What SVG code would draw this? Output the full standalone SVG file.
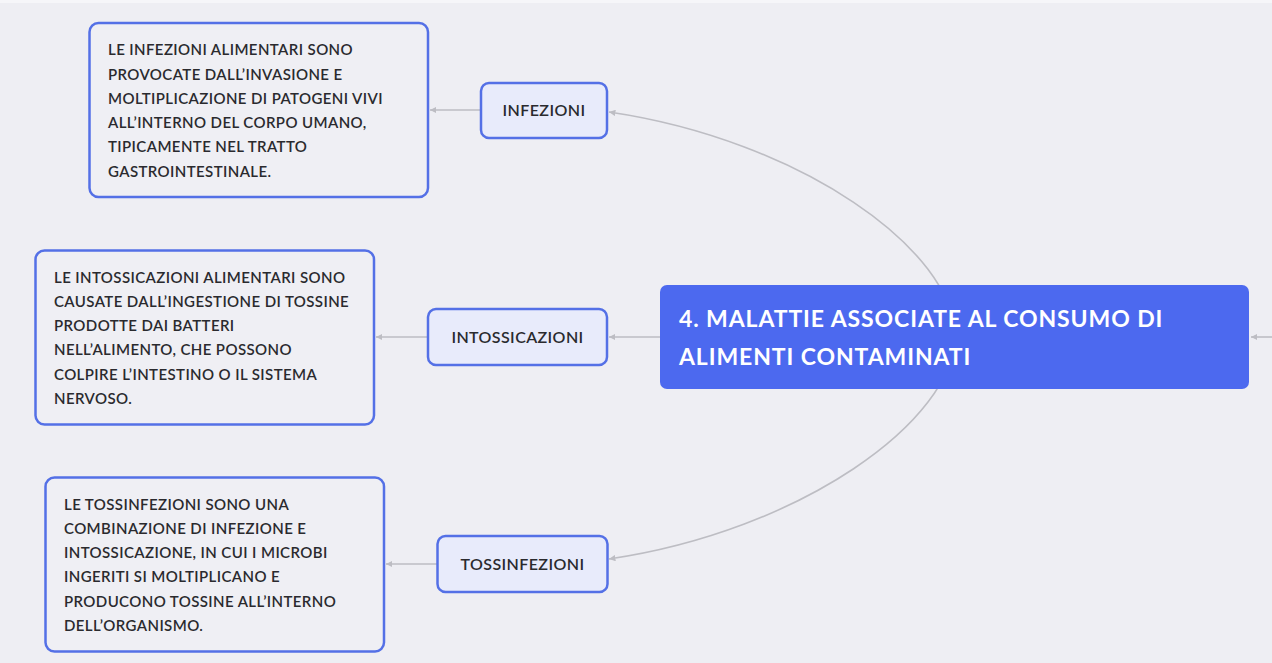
<svg xmlns="http://www.w3.org/2000/svg" width="1272" height="663" viewBox="0 0 1272 663">
  <style>
    .note { fill: #efeff4; stroke: #5470e6; stroke-width: 2.5; }
    .topic { fill: #e8ebfb; stroke: #5470e6; stroke-width: 2.5; }
    .root { fill: #4c69ef; }
    .note-text { font-family: Lato, "Noto Sans", sans-serif; font-size: 15px; font-weight: 600; letter-spacing: 0.4px; fill: #2a2a2e; }
    .topic-text { font-family: Lato, "Noto Sans", sans-serif; font-size: 16px; font-weight: 600; letter-spacing: 0.4px; fill: #2a2a2e; text-anchor: middle; }
    .root-text { font-family: Lato, "Noto Sans", sans-serif; font-size: 23px; font-weight: 700; letter-spacing: 0.9px; fill: #ffffff; }
    .link { fill: none; stroke: #bdbdc3; stroke-width: 1.6; }
  </style>
  <defs>
    <marker id="tip" viewBox="0 0 6 6" refX="6" refY="3" markerWidth="4" markerHeight="4" orient="auto">
      <path d="M0 0 L6 3 L0 6 Z" fill="#bdbdc3"/>
    </marker>
  </defs>

  <!-- canvas -->
  <rect x="0" y="0" width="1272" height="663" fill="#eeeef3"/>
  <rect x="0" y="0" width="1272" height="3" fill="#f6f6f9"/>

  <!-- connectors -->
  <g id="connectors">
    <path class="link" d="M955 337 C955 250 800 140 609 112" marker-end="url(#tip)"/>
    <path class="link" d="M955 335 C955 421 800 531 609 559" marker-end="url(#tip)"/>
    <path class="link" d="M660 337 L609 337" marker-end="url(#tip)"/>
    <path class="link" d="M1272 337 L1251 337" marker-end="url(#tip)"/>
    <path class="link" d="M481 110 L430 110" marker-end="url(#tip)"/>
    <path class="link" d="M428 337 L376 337" marker-end="url(#tip)"/>
    <path class="link" d="M437 564 L386 564" marker-end="url(#tip)"/>
  </g>

  <!-- central topic -->
  <g id="root">
    <rect class="root" x="660" y="285" width="589" height="104" rx="7"/>
    <text class="root-text" x="679" y="327">4. MALATTIE ASSOCIATE AL CONSUMO DI</text>
    <text class="root-text" x="679" y="365">ALIMENTI CONTAMINATI</text>
  </g>

  <!-- branch: infezioni -->
  <g id="infezioni">
    <rect class="topic" x="481" y="83" width="126" height="55" rx="8"/>
    <text class="topic-text" x="544" y="116">INFEZIONI</text>
  </g>
  <g id="infezioni-note">
    <rect class="note" x="89.5" y="23" width="338.5" height="174" rx="9"/>
    <text class="note-text" x="108" y="55">LE INFEZIONI ALIMENTARI SONO</text>
    <text class="note-text" x="108" y="79.5">PROVOCATE DALL’INVASIONE E</text>
    <text class="note-text" x="108" y="104">MOLTIPLICAZIONE DI PATOGENI VIVI</text>
    <text class="note-text" x="108" y="128">ALL’INTERNO DEL CORPO UMANO,</text>
    <text class="note-text" x="108" y="152">TIPICAMENTE NEL TRATTO</text>
    <text class="note-text" x="108" y="176.5">GASTROINTESTINALE.</text>
  </g>

  <!-- branch: intossicazioni -->
  <g id="intossicazioni">
    <rect class="topic" x="428" y="309" width="179" height="56" rx="8"/>
    <text class="topic-text" x="517.5" y="343">INTOSSICAZIONI</text>
  </g>
  <g id="intossicazioni-note">
    <rect class="note" x="35.5" y="250.5" width="338.5" height="174" rx="9"/>
    <text class="note-text" x="54" y="282.5">LE INTOSSICAZIONI ALIMENTARI SONO</text>
    <text class="note-text" x="54" y="306.5">CAUSATE DALL’INGESTIONE DI TOSSINE</text>
    <text class="note-text" x="54" y="331">PRODOTTE DAI BATTERI</text>
    <text class="note-text" x="54" y="355">NELL’ALIMENTO, CHE POSSONO</text>
    <text class="note-text" x="54" y="379.5">COLPIRE L’INTESTINO O IL SISTEMA</text>
    <text class="note-text" x="54" y="403.5">NERVOSO.</text>
  </g>

  <!-- branch: tossinfezioni -->
  <g id="tossinfezioni">
    <rect class="topic" x="437.5" y="536" width="170" height="56" rx="8"/>
    <text class="topic-text" x="522.5" y="570">TOSSINFEZIONI</text>
  </g>
  <g id="tossinfezioni-note">
    <rect class="note" x="45.5" y="477.5" width="338.5" height="174" rx="9"/>
    <text class="note-text" x="64" y="509.5">LE TOSSINFEZIONI SONO UNA</text>
    <text class="note-text" x="64" y="533.5">COMBINAZIONE DI INFEZIONE E</text>
    <text class="note-text" x="64" y="558">INTOSSICAZIONE, IN CUI I MICROBI</text>
    <text class="note-text" x="64" y="582">INGERITI SI MOLTIPLICANO E</text>
    <text class="note-text" x="64" y="606.5">PRODUCONO TOSSINE ALL’INTERNO</text>
    <text class="note-text" x="64" y="630.5">DELL’ORGANISMO.</text>
  </g>
</svg>
